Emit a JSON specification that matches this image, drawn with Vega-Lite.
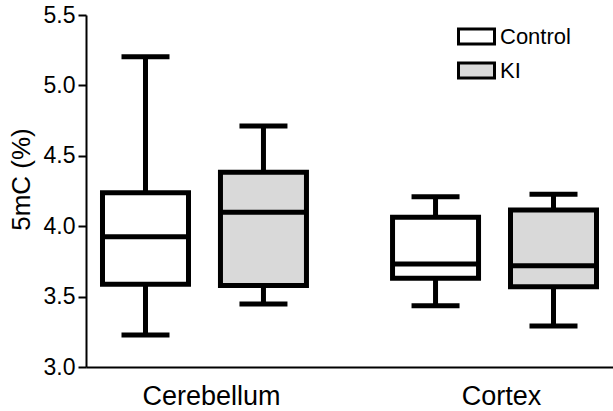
{
  "$schema": "https://vega.github.io/schema/vega-lite/v6.json",
  "autosize": {"type": "none"},
  "padding": {"left": 86, "top": 15, "right": 0, "bottom": 44},
  "width": 527,
  "height": 352,
  "background": "white",
  "config": {"view": {"stroke": null}, "font": "Liberation Sans"},
  "data": {
    "values": [
      {"region": "Cerebellum", "group": "Control", "min": 3.227, "q1": 3.587, "median": 3.925, "q3": 4.238, "max": 5.204},
      {"region": "Cerebellum", "group": "KI", "min": 3.447, "q1": 3.578, "median": 4.099, "q3": 4.383, "max": 4.712},
      {"region": "Cortex", "group": "Control", "min": 3.435, "q1": 3.63, "median": 3.732, "q3": 4.063, "max": 4.21},
      {"region": "Cortex", "group": "KI", "min": 3.291, "q1": 3.57, "median": 3.719, "q3": 4.115, "max": 4.227}
    ]
  },
  "encoding": {
    "x": {
      "field": "region", "type": "nominal", "sort": ["Cerebellum", "Cortex"],
      "scale": {"paddingInner": 0.407, "paddingOuter": 0.112},
      "axis": {"title": null, "labelAngle": 0, "labelFontSize": 27, "labelColor": "black", "labelPadding": 16, "ticks": false, "domainColor": "black", "domainWidth": 2, "labelOffset": 7}
    },
    "xOffset": {
      "field": "group", "type": "nominal", "sort": ["Control", "KI"],
      "scale": {"paddingInner": 0.7, "paddingOuter": 0.079}
    }
  },
  "layer": [
    {
      "mark": {"type": "rule", "strokeWidth": 5, "color": "black"},
      "encoding": {
        "y": {"field": "min", "type": "quantitative", "scale": {"domain": [3, 5.5], "nice": false, "zero": false},
          "axis": {"title": "5mC (%)", "titleFontSize": 26, "titleFontWeight": "normal", "titleColor": "black", "titleX": -52, "titleY": 164, "titleBaseline": "bottom",
            "values": [3, 3.5, 4, 4.5, 5, 5.5], "format": ".1f", "labelFontSize": 23, "labelColor": "black", "labelPadding": 3,
            "tickSize": 8, "tickWidth": 2, "tickColor": "black", "domainColor": "black", "domainWidth": 2, "grid": false}},
        "y2": {"field": "max"}
      }
    },
    {
      "mark": {"type": "bar", "width": 86, "stroke": "black", "strokeWidth": 5},
      "encoding": {
        "y": {"field": "q1", "type": "quantitative"},
        "y2": {"field": "q3"},
        "fill": {"field": "group", "type": "nominal", "sort": ["Control", "KI"],
          "scale": {"domain": ["Control", "KI"], "range": ["#ffffff", "#d9d9d9"]},
          "legend": {"title": null, "orient": "none", "legendX": 371, "legendY": 2,
            "symbolType": "M-1,-0.42H1V0.42H-1Z", "symbolSize": 1296, "symbolStrokeColor": "black", "symbolStrokeWidth": 3,
            "labelFontSize": 22, "labelColor": "black", "labelOffset": 4, "rowPadding": 0, "padding": 0}}
      }
    },
    {
      "mark": {"type": "tick", "size": 86, "thickness": 5, "color": "black", "opacity": 1},
      "encoding": {"y": {"field": "median", "type": "quantitative"}}
    },
    {
      "mark": {"type": "tick", "size": 48, "thickness": 5, "color": "black", "opacity": 1},
      "encoding": {"y": {"field": "min", "type": "quantitative"}}
    },
    {
      "mark": {"type": "tick", "size": 48, "thickness": 5, "color": "black", "opacity": 1},
      "encoding": {"y": {"field": "max", "type": "quantitative"}}
    }
  ]
}
